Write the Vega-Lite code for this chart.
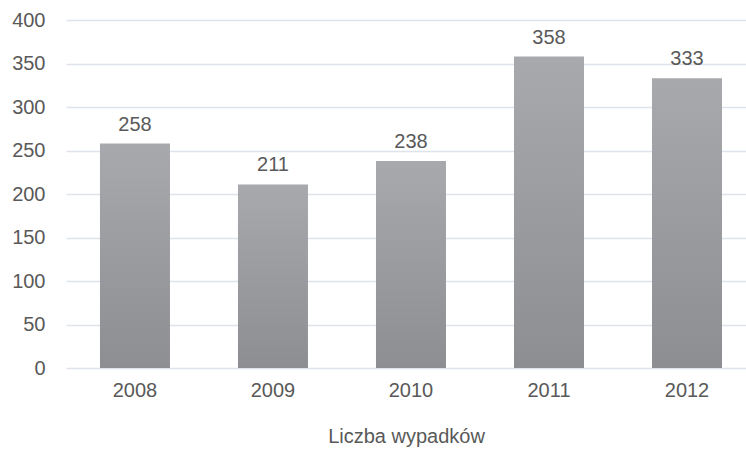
{
  "$schema": "https://vega.github.io/schema/vega-lite/v6.json",
  "width": 680,
  "height": 348,
  "autosize": {"type": "none"},
  "padding": {"left": 66, "top": 20, "right": 0, "bottom": 85},
  "background": "white",
  "config": {
    "view": {"stroke": null},
    "font": "Arial",
    "axis": {"labelFont": "Arial", "titleFont": "Arial"},
    "text": {"font": "Arial"}
  },
  "data": {
    "values": [
      {"rok": "2008", "wartosc": 258},
      {"rok": "2009", "wartosc": 211},
      {"rok": "2010", "wartosc": 238},
      {"rok": "2011", "wartosc": 358},
      {"rok": "2012", "wartosc": 333}
    ]
  },
  "encoding": {
    "x": {
      "field": "rok",
      "type": "nominal",
      "sort": null,
      "scale": {"paddingInner": 0.4928, "paddingOuter": 0.21, "align": 0.586},
      "axis": {
        "title": "Liczba wypadków",
        "titleFontSize": 20,
        "titleFontWeight": "normal",
        "titleColor": "#595959",
        "titlePadding": 26,
        "labelAngle": 0,
        "labelFontSize": 20,
        "labelColor": "#595959",
        "labelPadding": 12,
        "domain": false,
        "ticks": false
      }
    },
    "y": {
      "field": "wartosc",
      "type": "quantitative",
      "scale": {"domain": [0, 400]},
      "axis": {
        "title": null,
        "values": [0, 50, 100, 150, 200, 250, 300, 350, 400],
        "labelFontSize": 20,
        "labelColor": "#595959",
        "labelPadding": 21,
        "domain": false,
        "ticks": false,
        "gridColor": "#dfe4ec",
        "gridWidth": 1.3
      }
    }
  },
  "layer": [
    {
      "mark": {
        "type": "bar",
        "color": {
          "gradient": "linear",
          "x1": 0, "y1": 0, "x2": 0, "y2": 1,
          "stops": [
            {"offset": 0, "color": "#a8a9ac"},
            {"offset": 1, "color": "#8d8e92"}
          ]
        }
      }
    },
    {
      "mark": {
        "type": "text",
        "baseline": "alphabetic",
        "dy": -13,
        "fontSize": 20,
        "color": "#595959",
        "font": "Arial"
      },
      "encoding": {"text": {"field": "wartosc", "type": "quantitative"}}
    }
  ]
}
